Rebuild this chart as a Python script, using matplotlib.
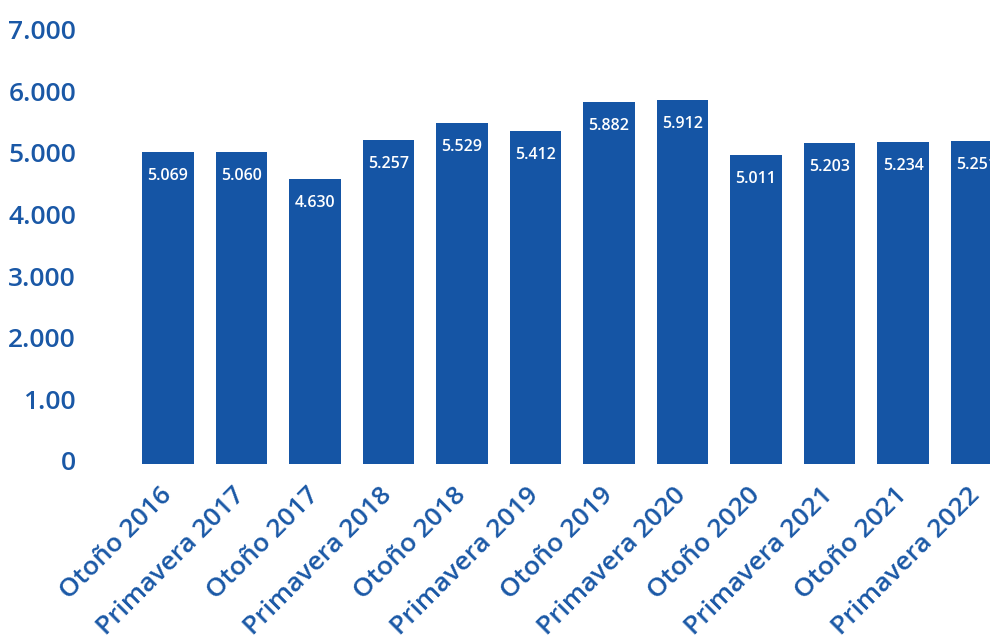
import matplotlib
matplotlib.use("Agg")
import matplotlib.pyplot as plt

categories = ["Otoño 2016", "Primavera 2017", "Otoño 2017", "Primavera 2018",
              "Otoño 2018", "Primavera 2019", "Otoño 2019", "Primavera 2020",
              "Otoño 2020", "Primavera 2021", "Otoño 2021", "Primavera 2022"]
values = [5069, 5060, 4630, 5257, 5529, 5412, 5882, 5912, 5011, 5203, 5234, 5251]
value_labels = ["5.069", "5.060", "4.630", "5.257", "5.529", "5.412", "5.882",
                "5.912", "5.011", "5.203", "5.234", "5.251"]
yticks = [0, 1000, 2000, 3000, 4000, 5000, 6000, 7000]
ytick_labels = ["0", "1.00", "2.000", "3.000", "4.000", "5.000", "6.000", "7.000"]

BAR = "#1555A5"
TXT = "#1A58A6"
W, H = 990, 639

plt.rcParams['font.family'] = ['Open Sans', 'DejaVu Sans']

fig = plt.figure(figsize=(W / 100, H / 100), dpi=100)
left_px, right_px = 100, 990
bottom_px, top_px = 464, 12
ax = fig.add_axes([left_px / W, 1 - bottom_px / H, (right_px - left_px) / W,
                   (bottom_px - top_px) / H])

pitch = 73.5
c0 = 168
ax.set_xlim((left_px - c0) / pitch, (right_px - c0) / pitch)
ax.set_ylim(0, (bottom_px - top_px) / 61.6 * 1000)

x = list(range(len(categories)))
ax.bar(x, values, width=0.707, color=BAR, zorder=2)

for xi, v, lab in zip(x, values, value_labels):
    ax.annotate(lab, (xi, v), xytext=(0, -24), textcoords='offset pixels',
                ha='center', va='center', color='white', fontsize=11.5,
                fontweight='semibold', annotation_clip=False)

# y tick labels drawn at the tick positions
ax.set_yticks(yticks)
ax.set_yticklabels([])
for yv, lab in zip(yticks, ytick_labels):
    ax.annotate(lab, (0, yv), xycoords=('axes fraction', 'data'),
                xytext=(-24, 0), textcoords='offset pixels',
                ha='right', va='center', color=TXT, fontsize=19,
                fontweight='semibold', annotation_clip=False)

ax.set_xticks(x)
ax.set_xticklabels(categories, rotation=45, ha='right', va='center',
                   rotation_mode='anchor')
for t in ax.get_xticklabels():
    t.set_fontsize(19)
    t.set_fontweight('semibold')
    t.set_color(TXT)
ax.tick_params(axis='both', length=0)
ax.tick_params(axis='x', pad=20)
for s in ax.spines.values():
    s.set_visible(False)

fig.savefig("out.png", dpi=100)
